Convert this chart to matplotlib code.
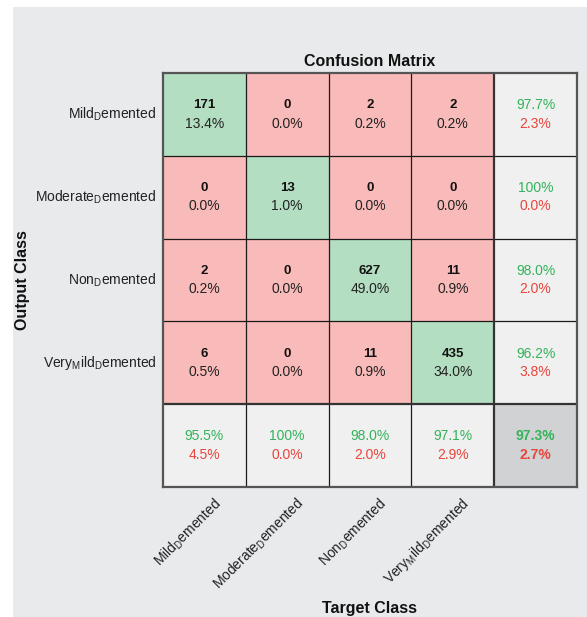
import numpy as np
import matplotlib
matplotlib.use("Agg")
import matplotlib.pyplot as plt
from matplotlib.patches import Rectangle

plt.rcParams['font.family'] = ['Liberation Sans', 'DejaVu Sans']
plt.rcParams['mathtext.fontset'] = 'custom'
plt.rcParams['mathtext.rm'] = 'Liberation Sans'
plt.rcParams['mathtext.it'] = 'Liberation Sans:italic'
plt.rcParams['mathtext.bf'] = 'Liberation Sans:bold'

# ---- data ----
classes = [r"Mild$_\mathrm{D}$emented", r"Moderate$_\mathrm{D}$emented",
           r"Non$_\mathrm{D}$emented", r"Very$_\mathrm{M}$ild$_\mathrm{D}$emented"]
counts = np.array([[171, 0, 2, 2],
                   [0, 13, 0, 0],
                   [2, 0, 627, 11],
                   [6, 0, 11, 435]])
title = "Confusion Matrix"
xlabel = "Target Class"
ylabel = "Output Class"

# ---- colours ----
GREEN = "#b3dec1"
RED = "#f9bbb9"
MARG = "#f0f0f0"
CORNER = "#d1d2d4"
PANEL = "#e9eaec"
TGREEN = "#33b35a"
TRED = "#e8453c"

n = counts.shape[0]
total = counts.sum()

W, H = 587, 617
fig = plt.figure(figsize=(W / 100, H / 100), dpi=100)
fig.patch.set_facecolor("white")
fig.patches.append(Rectangle((13 / W, 0), 1 - 13 / W, 1 - 7 / H,
                             transform=fig.transFigure, facecolor=PANEL,
                             edgecolor="none", zorder=-10))

L, R, T, B = 163, 577, 73, 487
ax = fig.add_axes([L / W, 1 - B / H, (R - L) / W, (B - T) / H])
ax.set_xlim(-0.5, n + 0.5)
ax.set_ylim(n + 0.5, -0.5)
ax.set_facecolor(MARG)

for i in range(n + 1):
    for j in range(n + 1):
        if i < n and j < n:
            fc = GREEN if i == j else RED
        elif i == n and j == n:
            fc = CORNER
        else:
            fc = MARG
        ax.add_patch(Rectangle((j - 0.5, i - 0.5), 1, 1, facecolor=fc,
                               edgecolor="none", zorder=1))

for k in range(1, n):
    ax.axvline(k - 0.5, color="#1a1a1a", lw=0.9, zorder=2)
    ax.axhline(k - 0.5, color="#1a1a1a", lw=0.9, zorder=2)
ax.axvline(n - 0.5, color="#333333", lw=1.6, zorder=2)
ax.axhline(n - 0.5, color="#333333", lw=1.6, zorder=2)
for s in ax.spines.values():
    s.set_color("#555555")
    s.set_linewidth(1.6)

fs = 10
dy = 0.11
for i in range(n):
    for j in range(n):
        ax.text(j, i - dy, f"{counts[i, j]}", ha="center", va="center",
                fontsize=fs - 0.5, fontweight="bold", color="#111111", zorder=3)
        ax.text(j, i + dy, f"{100 * counts[i, j] / total:.1f}%", ha="center",
                va="center", fontsize=fs, color="#222222", zorder=3)


def pct(v):
    s = f"{v:.1f}%"
    return "100%" if s == "100.0%" else s


for i in range(n):
    acc = 100 * counts[i, i] / counts[i].sum()
    ax.text(n, i - dy, pct(acc), ha="center", va="center", fontsize=fs,
            color=TGREEN, zorder=3)
    ax.text(n, i + dy, pct(100 - acc), ha="center", va="center", fontsize=fs,
            color=TRED, zorder=3)
for j in range(n):
    acc = 100 * counts[j, j] / counts[:, j].sum()
    ax.text(j, n - dy, pct(acc), ha="center", va="center", fontsize=fs,
            color=TGREEN, zorder=3)
    ax.text(j, n + dy, pct(100 - acc), ha="center", va="center", fontsize=fs,
            color=TRED, zorder=3)
acc = 100 * np.trace(counts) / total
ax.text(n, n - dy, pct(acc), ha="center", va="center", fontsize=fs,
        fontweight="bold", color=TGREEN, zorder=3)
ax.text(n, n + dy, pct(100 - acc), ha="center", va="center", fontsize=fs,
        fontweight="bold", color=TRED, zorder=3)

ax.set_xticks([])
ax.set_yticks([])

for i, c in enumerate(classes):
    ax.text(-0.58, i, c, ha="right", va="center", fontsize=fs, color="#222222")
for j, c in enumerate(classes):
    ax.text(j + 0.1, n + 0.6, c, ha="right", va="top", rotation=45,
            rotation_mode="anchor", fontsize=fs, color="#222222")

fig.text((L + R) / 2 / W, 1 - 61 / H, title, ha="center", va="center",
         fontsize=11.5, fontweight="bold", color="#111111")
fig.text((L + R) / 2 / W, 1 - 608 / H, xlabel, ha="center", va="center",
         fontsize=11.5, fontweight="bold", color="#111111")
fig.text(23 / W, 1 - 280 / H, ylabel, ha="center", va="center", rotation=90,
         fontsize=11.5, fontweight="bold", color="#111111")

fig.savefig("out.png", dpi=100, facecolor=fig.get_facecolor())
